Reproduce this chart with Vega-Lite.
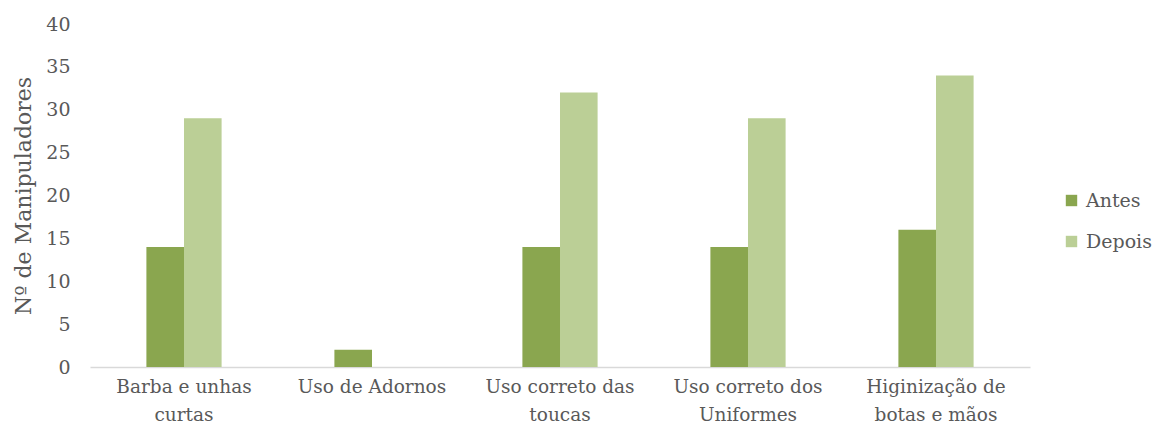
{
  "$schema": "https://vega.github.io/schema/vega-lite/v6.json",
  "width": 940,
  "height": 343,
  "autosize": {"type": "none"},
  "padding": {"left": 90, "top": 24, "right": 127, "bottom": 67},
  "background": "white",
  "config": {
    "font": "DejaVu Serif",
    "axis": {"labelFont": "DejaVu Serif", "titleFont": "DejaVu Serif"},
    "legend": {"labelFont": "DejaVu Serif"},
    "view": {"stroke": null}
  },
  "data": {
    "values": [
      {"categoria": "Barba e unhas curtas", "periodo": "Antes", "valor": 14},
      {"categoria": "Barba e unhas curtas", "periodo": "Depois", "valor": 29},
      {"categoria": "Uso de Adornos", "periodo": "Antes", "valor": 2},
      {"categoria": "Uso de Adornos", "periodo": "Depois", "valor": 0},
      {"categoria": "Uso correto das toucas", "periodo": "Antes", "valor": 14},
      {"categoria": "Uso correto das toucas", "periodo": "Depois", "valor": 32},
      {"categoria": "Uso correto dos Uniformes", "periodo": "Antes", "valor": 14},
      {"categoria": "Uso correto dos Uniformes", "periodo": "Depois", "valor": 29},
      {"categoria": "Higinização de botas e mãos", "periodo": "Antes", "valor": 16},
      {"categoria": "Higinização de botas e mãos", "periodo": "Depois", "valor": 34}
    ]
  },
  "mark": {"type": "bar"},
  "encoding": {
    "x": {
      "field": "categoria",
      "type": "nominal",
      "sort": null,
      "scale": {"paddingInner": 0.6, "paddingOuter": 0.3},
      "axis": {
        "title": null,
        "labelAngle": 0,
        "labelFontSize": 18.5,
        "labelColor": "#595959",
        "labelPadding": 10,
        "labelLineHeight": 28,
        "ticks": false,
        "domainColor": "#D9D9D9",
        "domainWidth": 1.5,
        "labelExpr": "datum.value == 'Barba e unhas curtas' ? ['Barba e unhas', 'curtas'] : datum.value == 'Uso correto das toucas' ? ['Uso correto das', 'toucas'] : datum.value == 'Uso correto dos Uniformes' ? ['Uso correto dos', 'Uniformes'] : datum.value == 'Higinização de botas e mãos' ? ['Higinização de', 'botas e mãos'] : datum.value"
      }
    },
    "xOffset": {"field": "periodo", "type": "nominal", "scale": {"paddingInner": 0, "paddingOuter": 0}},
    "y": {
      "field": "valor",
      "type": "quantitative",
      "scale": {"domain": [0, 40]},
      "axis": {
        "title": "Nº de Manipuladores",
        "titleFontSize": 22,
        "titleFontWeight": "normal",
        "titleColor": "#595959",
        "titlePadding": 10,
        "values": [0, 5, 10, 15, 20, 25, 30, 35, 40],
        "labelFontSize": 19,
        "labelColor": "#595959",
        "labelPadding": 20,
        "ticks": false,
        "domain": false,
        "grid": false
      }
    },
    "color": {
      "field": "periodo",
      "type": "nominal",
      "scale": {"domain": ["Antes", "Depois"], "range": ["#8AA64F", "#BBCF96"]},
      "legend": {
        "title": null,
        "orient": "none",
        "legendX": 972,
        "legendY": 167,
        "symbolType": "square",
        "symbolSize": 130,
        "symbolStrokeWidth": 0,
        "labelFontSize": 19,
        "labelColor": "#595959",
        "labelOffset": 5,
        "rowPadding": 21
      }
    }
  }
}
